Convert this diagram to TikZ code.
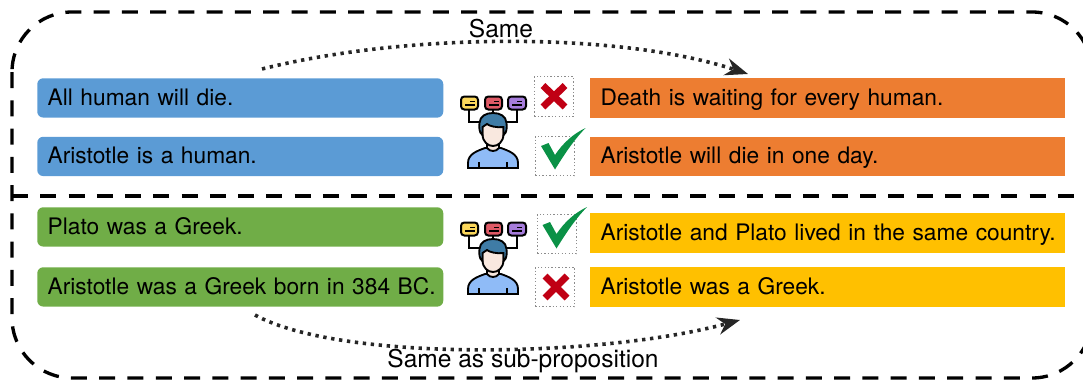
\documentclass[tikz,border=0pt]{standalone}
\usepackage{fontspec}
\setmainfont{TeX Gyre Heros}
\usetikzlibrary{arrows.meta}
\definecolor{cblue}{HTML}{5B9BD5}
\definecolor{corange}{HTML}{ED7D31}
\definecolor{cgreen}{HTML}{70AD47}
\definecolor{cgold}{HTML}{FFC000}
\definecolor{chair}{HTML}{3F7CA6}
\definecolor{cbody}{HTML}{8FBBF7}
\definecolor{cface}{HTML}{F9E8DF}
\definecolor{cred}{HTML}{C00014}
\definecolor{ccheck}{HTML}{0A9146}
\definecolor{tagy}{HTML}{FBD75B}
\definecolor{tagr}{HTML}{DF5A66}
\definecolor{tagp}{HTML}{A67CDB}
\tikzset{
  txt/.style={font=\fontsize{17.05pt}{20pt}\selectfont, text=black},
  lbl/.style={font=\fontsize{18.4pt}{20pt}\selectfont, text=black},
  stmt/.style 2 args={txt, anchor=north west, fill=#1, draw=none, inner xsep=7.8pt, inner ysep=0pt,
    minimum width=#2*0.75pt, text width=#2*0.75pt-15.6pt, minimum height=29.5pt,
    align=left, text height=14.5pt, text depth=3.5pt},
  lstmt/.style={stmt={#1}{406}, rounded corners=4.5pt},
  rstmt/.style={stmt={#1}{475}},
  outer/.style={draw=black, line width=2.5pt, dash pattern=on 12pt off 9.2pt},
  flow/.style={draw=black!85, line width=2.7pt, dash pattern=on 2.5pt off 3.5pt, -{Stealth[length=17pt,width=13pt]}},
  markbox/.style={draw=black!45, line width=0.9pt, dash pattern=on 1pt off 1.6pt, minimum size=29.5pt, inner sep=0pt},
  cross/.style={draw=cred, line width=5.2pt},
  tick/.style={fill=ccheck, draw=none},
  tag/.style={draw=black, line width=1.5pt, rounded corners=2.5pt},
  wire/.style={draw=black, line width=1.4pt},
  pics/thinker/.style={code={
    \draw[wire] (-24,12) -- (-24,25) -- (-10,25);
    \draw[wire] (24,12) -- (24,25) -- (10,25);
    \draw[wire] (0,12) -- (0,18);
    \draw[tag, fill=tagy] (-32,-0.5) rectangle (-15,12.5);
    \draw[tag, fill=tagr] (-8,-0.5) rectangle (9,12.5);
    \draw[tag, fill=tagp] (15,-0.5) rectangle (33,12.5);
    \foreach \o in {-32,-8,15}{
      \draw[wire] (\o+9,4.5) -- (\o+14,4.5);
      \draw[wire] (\o+4,8) -- (\o+14,8);
    }
    \draw[wire, fill=cbody] (-25,71) -- (-25,66) .. controls (-25,57) and (-16,54) .. (-8,51)
      -- (8,51) .. controls (16,54) and (25,57) .. (25,66) -- (25,71) -- cycle;
    \draw[wire] (-14,71) -- (-14,65);
    \draw[wire] (14,71) -- (14,65);
    \draw[wire, fill=cface] (-6,42) -- (-6,51) .. controls (-3,55) and (3,55) .. (6,51) -- (6,42) -- cycle;
    \draw[wire, fill=cface] (-10.5,24) -- (-10.5,37) .. controls (-10.5,45) and (-5,49) .. (0,49)
      .. controls (5,49) and (10.5,45) .. (10.5,37) -- (10.5,24) -- cycle;
    \draw[wire, fill=chair] (-10.5,38) .. controls (-14,36) and (-14,30) .. (-13.5,26)
      .. controls (-13,19) and (-7,16) .. (0,16) .. controls (7,16) and (13,19) .. (13.5,26)
      .. controls (14,30) and (14,36) .. (10.5,38) -- (10.5,30) .. controls (4,31) and (-4,29) .. (-6,27)
      .. controls (-8,29) and (-10,29) .. (-10.5,30) -- cycle;
  }}
}
\begin{document}
\begin{tikzpicture}[x=0.75pt,y=-0.75pt]
\useasboundingbox (0,0) rectangle (1083,382);
\begin{scope}
\clip (0,0) rectangle (1083,382);
\draw[outer, rounded corners=45pt] (12,12) rectangle (1092,378);
\draw[outer] (12,196) -- (1083,196);
\end{scope}

\node[lstmt=cblue] (a1) at (37,78) {\mbox{All human will die.}};
\node[lstmt=cblue] (a2) at (37,136.5) {\mbox{Aristotle is a human.}};
\node[rstmt=corange] (b1) at (590,78) {\mbox{Death is waiting for every human.}};
\node[rstmt=corange] (b2) at (590,136.5) {\mbox{Aristotle will die in one day.}};
\node[lstmt=cgreen] (c1) at (37,207) {\mbox{Plato was a Greek.}};
\node[lstmt=cgreen] (c2) at (37,267) {\mbox{Aristotle was a Greek born in 384 BC.}};
\node[rstmt=cgold] (d1) at (590,213) {\mbox{Aristotle and Plato lived in the same country.}};
\node[rstmt=cgold] (d2) at (590,267) {\mbox{Aristotle was a Greek.}};

\pic at (493,97) {thinker};
\pic at (493,223) {thinker};

\node[markbox] (m1) at (554,96.5) {};
\node[markbox] (m2) at (555,156) {};
\node[markbox] (m3) at (557,234) {};
\node[markbox] (m4) at (555,287) {};

\draw[cross] (543,85.5) -- (565,107);
\draw[cross] (565,85.5) -- (543,107);
\draw[cross] (545,276) -- (567,298);
\draw[cross] (567,276) -- (545,298);
\path[tick] (541,146) -- (548.5,143) -- (555,155) .. controls (563,143) and (573,134) .. (585.5,128)
  .. controls (573,141) and (564,155) .. (555,169.5) -- cycle;
\path[tick] (542.5,225) -- (550,222) -- (556.5,234) .. controls (564.5,222) and (574.5,213) .. (587,207)
  .. controls (574.5,220) and (565.5,234) .. (556.5,248.5) -- cycle;

\coordinate (s1) at (262,69);
\coordinate (e1) at (748,74);
\coordinate (s2) at (255,315);
\coordinate (e2) at (740,320);
\draw[flow] (s1) .. controls (410,32) and (620,32) .. (e1);
\draw[flow] (s2) .. controls (340,362) and (600,358) .. (e2);

\node[lbl] (t1) at (501,29) {Same};
\node[lbl] (t2) at (523,361) {Same as sub-proposition};
\end{tikzpicture}
\end{document}
